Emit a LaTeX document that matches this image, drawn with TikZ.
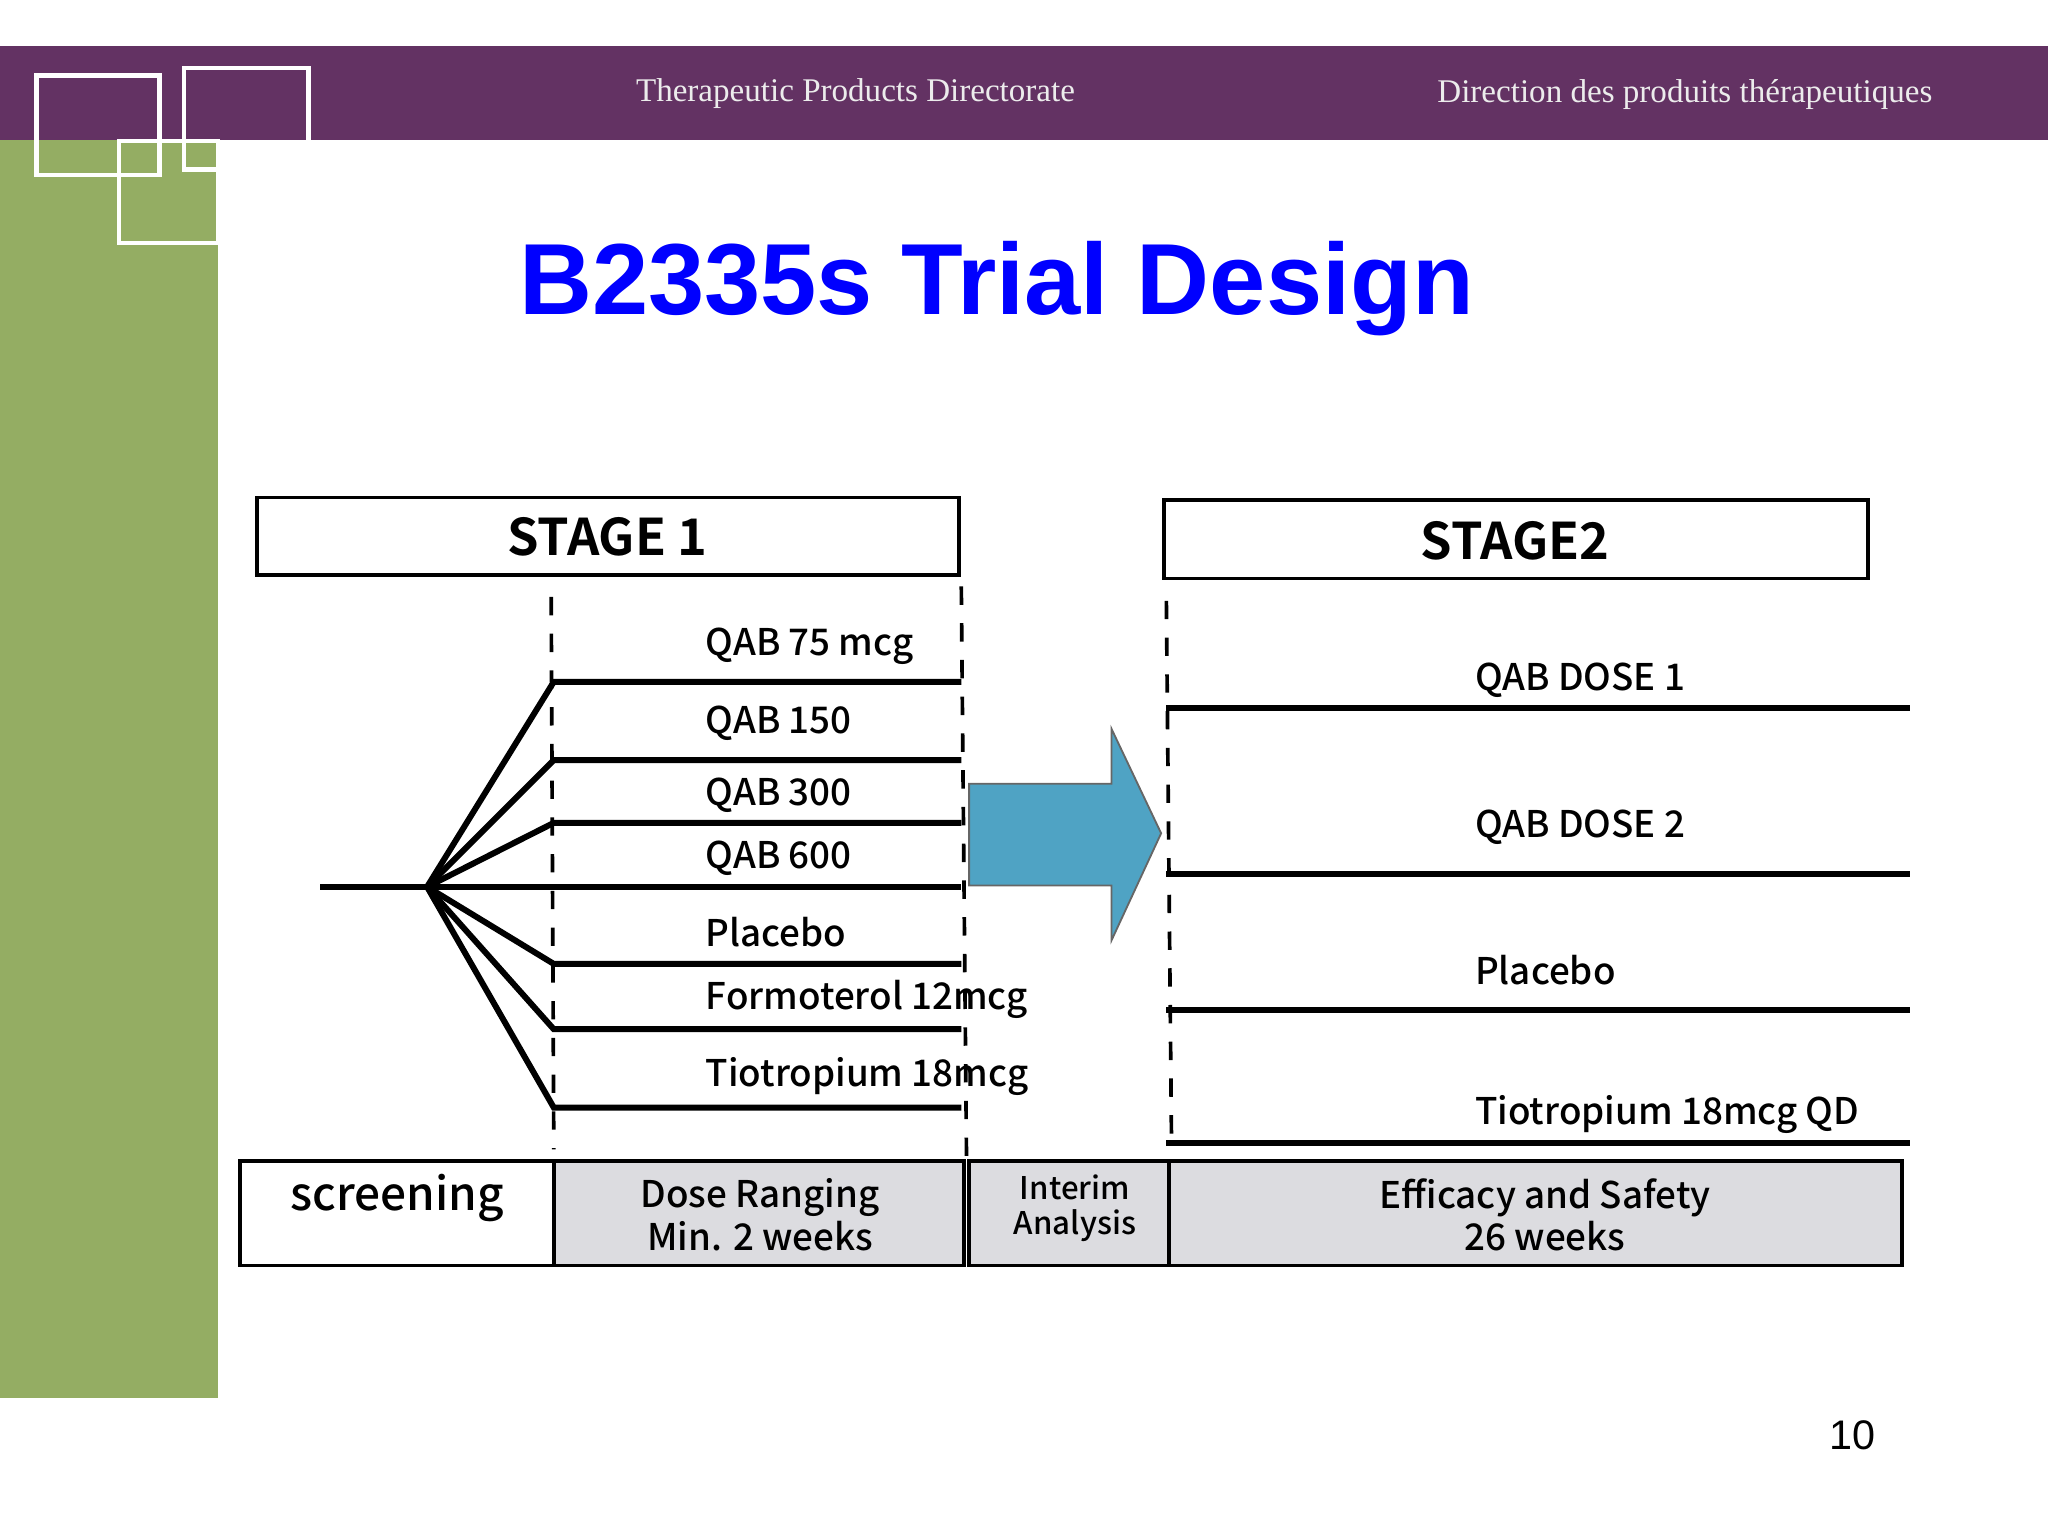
\documentclass[tikz,border=0pt]{standalone}
\usepackage{fontspec}
\setmainfont{Noto Sans CJK JP}[UprightFont={* Medium},BoldFont={* Bold}]
\newfontfamily\ttl{Liberation Sans}
\newfontfamily\hdr{Liberation Serif}
\begin{document}
\begin{tikzpicture}[x=0.01cm,y=-0.01cm,
  lab/.style={anchor=west,font=\fontsize{8}{9}\selectfont},
  arm/.style={line width=1.3pt},
  dsh/.style={dashed,line width=0.8pt,dash pattern=on 4pt off 4pt},
  cell/.style={draw,line width=0.8pt,fill=cellgray}]
\definecolor{hdrpurple}{RGB}{99,50,99}
\definecolor{lgreen}{RGB}{148,173,99}
\definecolor{cellgray}{RGB}{220,220,224}
\definecolor{arrblue}{RGB}{79,163,196}
\useasboundingbox (0,0) rectangle (1568,1176);
\fill[hdrpurple] (0,35) rectangle (1568,107);
\fill[lgreen] (0,107) rectangle (167,1070);
\draw[white,line width=1pt] (28,58) rectangle (122,134) (141,52) rectangle (236,130) (91,108) rectangle (167,186);
\node[font=\hdr\fontsize{7.2}{8}\selectfont,text=white!85!gray] (h1) at (655,72) {Therapeutic Products Directorate};
\node[font=\hdr\fontsize{7.2}{8}\selectfont,text=white!85!gray] (h2) at (1290,72) {Direction des produits thérapeutiques};
\node[font=\ttl\bfseries\fontsize{22}{24}\selectfont,text=blue] (title) at (763,221) {B2335s Trial Design};
\draw[line width=0.8pt] (197,381) rectangle (734,440);
\draw[line width=0.8pt] (891,383) rectangle (1430,443);
\node[font=\fontsize{11}{13}\selectfont\bfseries] (s1t) at (465,411) {STAGE 1};
\node[font=\fontsize{11}{13}\selectfont\bfseries] (s2t) at (1160,414) {STAGE2};
% dashed
\draw[dsh] (422,457) -- (424,880);
\draw[dsh] (736,449) -- (740,888);
\draw[dsh] (893,460) -- (897,880);
% fan
\coordinate (o) at (327,679);
\draw[arm] (245,679) -- (736,679);
\foreach \y in {522,582,630,738,788,848}{
  \draw[arm] (o) -- (424,\y) -- (736,\y);}
\foreach \y/\t in {495/QAB 75 mcg,554/QAB 150,609/QAB 300,657/QAB 600,714/Placebo,765/Formoterol 12mcg,824/Tiotropium 18mcg}
  \node[lab] at (528,\y) {\t};
\foreach \y in {542,669,773,875} \draw[arm] (893,\y) -- (1462,\y);
\foreach \y/\t in {521/QAB DOSE 1,633/QAB DOSE 2,743/Placebo,853/Tiotropium 18mcg QD}
  \node[lab] at (1117,\y) {\t};
% arrow
\fill[arrblue,draw=black!60,line width=0.4pt] (742,600) -- (851,600) -- (851,558) -- (889,638) -- (851,720) -- (851,678) -- (742,678) -- cycle;
% bottom
\draw[line width=0.8pt] (184,889) rectangle (424,969);
\draw[cell] (424,889) rectangle (738,969);
\draw[cell] (742,889) rectangle (895,969);
\draw[cell] (895,889) rectangle (1456,969);
\node[font=\fontsize{10}{12}\selectfont] (scr) at (304,917) {screening};
\node[align=center,font=\fontsize{8}{9.2}\selectfont] (dr) at (582,930) {Dose Ranging\\Min. 2 weeks};
\node[align=center,font=\fontsize{6.8}{7.5}\selectfont] (ia) at (823,925) {Interim\\Analysis};
\node[align=center,font=\fontsize{8}{9.2}\selectfont] (es) at (1183,930) {Efficacy and Safety\\26 weeks};
\node[font=\ttl\fontsize{9}{11}\selectfont] (pg) at (1418,1099) {10};
\end{tikzpicture}
\end{document}
